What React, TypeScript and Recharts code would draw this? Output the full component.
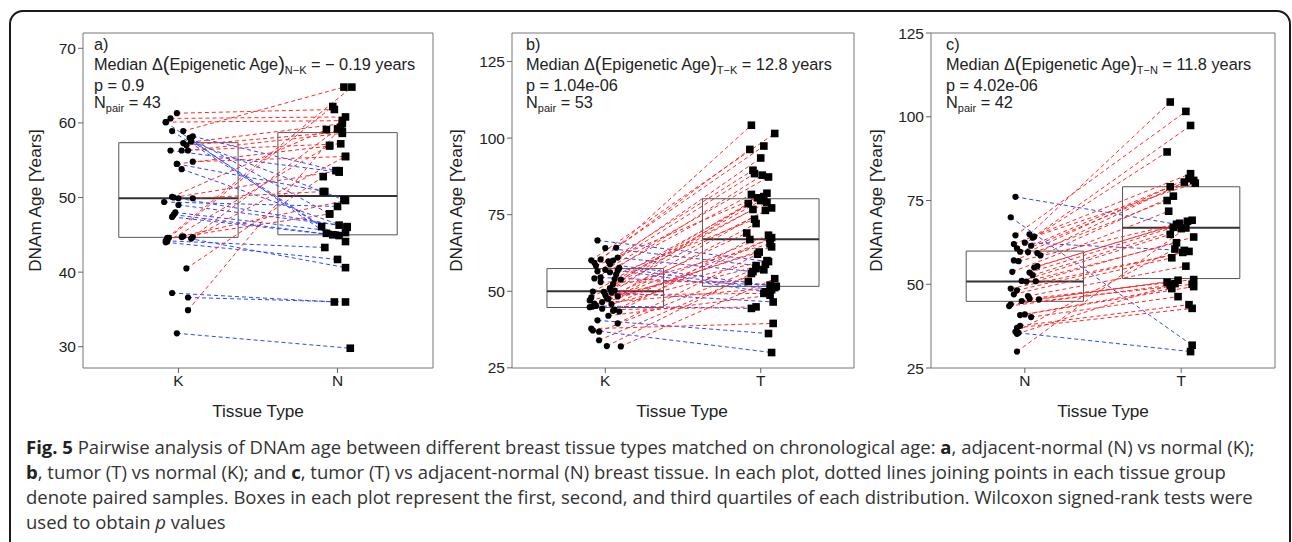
import React from 'react';
import { ComposedChart, XAxis, YAxis, Scatter, ReferenceArea, ReferenceLine } from 'recharts';

// ---------- Panel a: normal (K) vs adjacent-normal (N) ----------
const aCategories = ['K', 'N'];
const aLeft = [61.3, 60.6, 60.1, 58.9, 58.9, 58.2, 57.5, 57.3, 56.3, 56.3, 56.3, 54.5, 54.8, 53.8, 50.1, 49.4, 49.0, 49.9, 48.0, 47.4, 44.6, 44.2, 44.0, 44.7, 44.7, 40.5, 37.2, 36.6, 34.9, 31.8, 44.6, 58.0, 57.6, 44.4, 49.9, 44.1, 60.1, 57.0, 50.0, 47.7, 44.8, 54.5, 44.5];
const aRight = [61.8, 60.8, 45.2, 46.1, 64.8, 53.6, 49.7, 59.9, 53.4, 57.2, 58.6, 56.9, 55.5, 46.0, 59.1, 48.8, 46.3, 50.8, 45.3, 44.9, 62.2, 43.3, 41.7, 40.6, 59.2, 52.8, 36.0, 36.0, 59.4, 29.8, 64.8, 47.8, 44.1, 49.6, 46.1, 57.0, 60.3, 58.8, 53.6, 45.0, 47.8, 50.8, 55.5];
const aLeftJitter = [-0.01, -0.05, -0.08, -0.04, 0.03, 0.09, 0.08, 0.03, -0.05, 0.02, 0.06, -0.01, 0.09, 0.02, -0.04, -0.09, 0.0, 0.09, -0.02, -0.04, -0.06, -0.08, -0.08, 0.02, 0.09, 0.05, -0.04, 0.06, 0.06, -0.01, -0.07, 0.07, 0.08, -0.07, 0.0, -0.07, -0.08, 0.05, -0.03, -0.03, 0.03, -0.01, 0.08];
const aRightJitter = [-0.02, 0.05, -0.07, -0.1, 0.04, -0.01, 0.04, 0.03, 0.01, 0.02, 0.03, -0.05, 0.05, 0.06, -0.07, 0.0, 0.01, -0.09, 0.05, 0.01, -0.03, -0.08, 0.0, 0.05, 0.0, -0.09, -0.02, 0.05, 0.02, 0.08, 0.09, -0.05, 0.05, 0.05, 0.06, -0.05, 0.03, 0.03, 0.01, -0.03, -0.05, -0.08, 0.05];
const aBoxes = [
  { pos: 1, q1: 44.66, med: 49.9, q3: 57.35 },
  { pos: 2, q1: 45.0, med: 50.2, q3: 58.7 },
];
const aYDomain: [number, number] = [27.15, 72.05];
const aYTicks = [30, 40, 50, 60, 70];

// ---------- Panel b: normal (K) vs tumor (T) ----------
const bCategories = ['K', 'T'];
const bLeft = [66.6, 64.1, 64.2, 60.1, 59.3, 60.4, 60.0, 59.8, 57.6, 56.5, 56.8, 56.2, 57.0, 54.2, 54.0, 54.5, 53.8, 52.3, 49.9, 49.6, 50.2, 49.8, 48.0, 47.5, 48.3, 47.8, 45.2, 44.8, 44.3, 43.6, 43.4, 45.0, 40.5, 39.5, 37.8, 36.8, 37.2, 34.0, 32.1, 32.0, 58.3, 55.5, 51.0, 46.5, 45.8, 58.8, 61.0, 53.0, 48.8, 44.0, 46.0, 42.0, 47.0];
const bRight = [59.7, 58.4, 104.2, 101.5, 97.4, 96.3, 93.5, 89.5, 50.5, 88.4, 49.8, 87.9, 87.3, 81.6, 80.9, 52.0, 80.5, 79.6, 79.0, 46.5, 78.6, 77.2, 76.7, 76.4, 72.1, 69.0, 44.4, 68.3, 67.5, 67.2, 66.9, 64.5, 36.2, 62.1, 39.5, 57.4, 30.0, 57.0, 55.8, 54.1, 82.0, 73.5, 65.5, 62.8, 58.8, 51.6, 56.4, 53.2, 49.3, 44.9, 51.2, 48.7, 60.0];
const bLeftJitter = [-0.05, 0.0, 0.07, -0.09, -0.07, -0.03, 0.05, 0.02, 0.09, -0.05, 0.08, 0.03, 0.0, -0.07, 0.06, -0.03, 0.1, 0.05, -0.08, 0.04, 0.06, -0.01, -0.09, 0.02, 0.08, 0.01, -0.06, -0.1, -0.02, 0.05, 0.09, -0.08, -0.05, 0.08, -0.09, -0.04, -0.08, -0.04, 0.01, 0.1, -0.06, 0.07, 0.03, -0.02, 0.04, 0.03, 0.08, -0.03, 0.0, 0.06, -0.07, 0.02, -0.1];
const bRightJitter = [0.05, -0.03, -0.06, 0.09, 0.02, -0.07, 0.0, -0.05, 0.07, -0.04, 0.03, 0.01, 0.05, -0.06, 0.02, 0.06, -0.02, 0.0, 0.04, 0.08, -0.08, 0.07, -0.05, 0.03, -0.03, -0.09, -0.06, 0.05, 0.07, 0.06, -0.07, 0.07, 0.05, -0.02, 0.08, -0.03, 0.07, 0.02, -0.06, 0.09, 0.04, -0.04, 0.06, -0.01, 0.03, 0.1, -0.05, -0.08, 0.02, -0.03, 0.09, 0.06, 0.04];
const bBoxes = [
  { pos: 1, q1: 44.7, med: 50.0, q3: 57.4 },
  { pos: 2, q1: 51.6, med: 67.0, q3: 80.2 },
];
const bYDomain: [number, number] = [24.95, 134.3];
const bYTicks = [25, 50, 75, 100, 125];

// ---------- Panel c: adjacent-normal (N) vs tumor (T) ----------
const cCategories = ['N', 'T'];
const cLeft = [76.1, 70.0, 64.9, 64.6, 63.9, 62.4, 62.0, 61.5, 60.7, 59.7, 59.3, 59.6, 58.6, 57.1, 56.9, 55.4, 55.0, 53.7, 53.5, 52.7, 51.0, 50.9, 50.8, 48.7, 48.2, 47.0, 46.5, 45.7, 45.5, 45.0, 44.0, 43.5, 41.0, 40.8, 40.2, 37.6, 37.0, 35.8, 35.5, 35.2, 29.9, 64.2];
const cRight = [67.9, 31.8, 104.4, 101.6, 97.4, 60.1, 83.0, 81.6, 89.5, 81.0, 80.5, 79.1, 76.3, 75.0, 68.8, 69.1, 68.2, 71.8, 67.0, 66.6, 64.9, 64.1, 62.4, 59.8, 59.5, 57.9, 55.4, 51.4, 51.2, 50.6, 50.0, 49.7, 49.3, 48.7, 46.3, 43.9, 42.8, 60.5, 29.9, 50.2, 66.8, 80.2];
const cLeftJitter = [-0.06, -0.09, 0.03, -0.06, 0.05, 0.0, -0.07, 0.04, -0.05, -0.03, 0.08, 0.02, 0.1, -0.07, -0.04, 0.08, 0.06, -0.08, 0.03, 0.05, -0.02, 0.07, 0.01, -0.09, -0.05, -0.07, 0.02, 0.03, 0.09, -0.02, -0.09, -0.1, 0.0, -0.03, 0.04, -0.03, -0.05, -0.06, -0.04, -0.05, -0.05, 0.06];
const cRightJitter = [-0.03, 0.07, -0.07, 0.03, 0.06, 0.02, 0.06, 0.05, -0.09, 0.08, 0.02, -0.07, -0.05, -0.09, 0.04, 0.07, -0.01, -0.08, -0.05, 0.0, -0.07, 0.08, -0.03, 0.05, 0.01, -0.06, 0.03, 0.08, -0.02, -0.09, 0.07, -0.07, 0.08, -0.06, -0.02, 0.05, 0.07, -0.04, 0.06, -0.04, 0.03, 0.09];
const cBoxes = [
  { pos: 1, q1: 44.9, med: 50.8, q3: 59.9 },
  { pos: 2, q1: 51.7, med: 66.9, q3: 79.1 },
];
const cYDomain: [number, number] = [25, 125];
const cYTicks = [25, 50, 75, 100, 125];

const X_DOMAIN: [number, number] = [0.4, 2.6];
const BOX_HALF = 0.375;
const RED = '#ff2a2a';
const BLUE = '#2a48ff';
const FONT = '"Liberation Sans", Arimo, Arial, sans-serif';

const Dot = (props: any) => <circle cx={props.cx} cy={props.cy} r={3.1} fill="#000" />;
const Sq = (props: any) => <rect x={props.cx - 3.8} y={props.cy - 3.8} width={7.6} height={7.6} fill="#000" />;
const Empty = () => <g />;

type PanelProps = {
  left: number[]; right: number[]; leftJit: number[]; rightJit: number[];
  boxes: { pos: number; q1: number; med: number; q3: number }[];
  yDomain: [number, number]; yTicks: number[]; cats: string[];
  width: number; marginLeft: number; marginRight: number;
};

function Panel(p: PanelProps) {
  const leftPts = p.left.map((v, i) => ({ x: 1 + p.leftJit[i], y: v }));
  const rightPts = p.right.map((v, i) => ({ x: 2 + p.rightJit[i], y: v }));
  return (
    <ComposedChart width={p.width} height={400} margin={{ top: 33, right: p.marginRight, bottom: 2, left: p.marginLeft }}>
      <XAxis type="number" dataKey="x" domain={X_DOMAIN} ticks={[1, 2]} allowDataOverflow interval={0}
        tickFormatter={(v: number) => p.cats[Math.round(v) - 1]} axisLine={false}
        tickLine={{ stroke: '#666' }} tickSize={5} height={30}
        tick={{ fontSize: 15.5, fill: '#222', fontFamily: FONT }} />
      <YAxis type="number" dataKey="y" domain={p.yDomain} ticks={p.yTicks} allowDataOverflow interval={0}
        axisLine={false} tickLine={{ stroke: '#666' }} tickSize={5} width={45}
        tick={{ fontSize: 15.5, fill: '#222', fontFamily: FONT }} />
      <ReferenceArea x1={X_DOMAIN[0]} x2={X_DOMAIN[1]} y1={p.yDomain[0]} y2={p.yDomain[1]}
        fill="none" fillOpacity={0} stroke="#777" strokeWidth={1} ifOverflow="visible" />
      {p.boxes.map((b) => (
        <ReferenceArea key={'box' + b.pos} x1={b.pos - BOX_HALF} x2={b.pos + BOX_HALF} y1={b.q1} y2={b.q3}
          fill="none" fillOpacity={0} stroke="#555" strokeWidth={1} ifOverflow="visible" />
      ))}
      {p.boxes.map((b) => (
        <ReferenceLine key={'med' + b.pos} segment={[{ x: b.pos - BOX_HALF, y: b.med }, { x: b.pos + BOX_HALF, y: b.med }]}
          stroke="#333" strokeWidth={2} ifOverflow="visible" />
      ))}
      {p.left.map((v, i) => (
        <Scatter key={'pair' + i} data={[leftPts[i], rightPts[i]]} shape={Empty} legendType="none"
          line={{ stroke: p.right[i] >= v ? RED : BLUE, strokeWidth: 1, strokeDasharray: '4 3' }}
          isAnimationActive={false} />
      ))}
      <Scatter data={leftPts} shape={Dot} isAnimationActive={false} legendType="none" />
      <Scatter data={rightPts} shape={Sq} isAnimationActive={false} legendType="none" />
    </ComposedChart>
  );
}

function Annot({ x, letter, sub, value, pval, n }: { x: number; letter: string; sub: string; value: string; pval: string; n: string }) {
  return (
    <text fontFamily={FONT} fontSize={16.3} fill="#222">
      <tspan x={x} y={50}>{letter}</tspan>
      <tspan x={x} y={70}>Median Δ</tspan>
      <tspan fontSize={20} dy={1}>(</tspan>
      <tspan dy={-1}>Epigenetic Age</tspan>
      <tspan fontSize={20} dy={1}>)</tspan>
      <tspan fontSize={11} dy={3}>{sub}</tspan>
      <tspan dy={-4}>{' = ' + value}</tspan>
      <tspan x={x} y={91}>{'p = ' + pval}</tspan>
      <tspan x={x} y={108}>N</tspan>
      <tspan fontSize={11} dy={4}>pair</tspan>
      <tspan dy={-4}>{' = ' + n}</tspan>
    </text>
  );
}

function YTitle({ x }: { x: number }) {
  return (
    <text x={x} y={200.5} transform={`rotate(-90 ${x} 200.5)`} textAnchor="middle" dominantBaseline="central"
      fontFamily={FONT} fontSize={17.2} fill="#222">DNAm Age [Years]</text>
  );
}

function XTitle({ x }: { x: number }) {
  return (
    <text x={x} y={416.5} textAnchor="middle" fontFamily={FONT} fontSize={17.2} fill="#222">Tissue Type</text>
  );
}

const CAP_FONT = '"Open Sans", "Noto Sans", sans-serif';

export default function App() {
  return (
    <div style={{ position: 'absolute', left: 0, top: 0, width: 1292, height: 542, background: '#fff', overflow: 'hidden' }}>
      <div style={{ position: 'absolute', left: 0, top: 0 }}>
        <Panel left={aLeft} right={aRight} leftJit={aLeftJitter} rightJit={aRightJitter} boxes={aBoxes}
          yDomain={aYDomain} yTicks={aYTicks} cats={aCategories} width={440} marginLeft={38} marginRight={7} />
      </div>
      <div style={{ position: 'absolute', left: 440, top: 0 }}>
        <Panel left={bLeft} right={bRight} leftJit={bLeftJitter} rightJit={bRightJitter} boxes={bBoxes}
          yDomain={bYDomain} yTicks={bYTicks} cats={bCategories} width={420} marginLeft={27} marginRight={6} />
      </div>
      <div style={{ position: 'absolute', left: 860, top: 0 }}>
        <Panel left={cLeft} right={cRight} leftJit={cLeftJitter} rightJit={cRightJitter} boxes={cBoxes}
          yDomain={cYDomain} yTicks={cYTicks} cats={cCategories} width={432} marginLeft={26} marginRight={17} />
      </div>
      <svg width={1292} height={542} style={{ position: 'absolute', left: 0, top: 0, pointerEvents: 'none' }}>
        <rect x={10} y={11} width={1280} height={600} rx={13} ry={13} fill="none" stroke="#1a1a1a" strokeWidth={2} />
        <Annot x={94} letter="a)" sub="N−K" value="− 0.19 years" pval="0.9" n="43" />
        <Annot x={526} letter="b)" sub="T−K" value="12.8 years" pval="1.04e-06" n="53" />
        <Annot x={946} letter="c)" sub="T−N" value="11.8 years" pval="4.02e-06" n="42" />
        <YTitle x={35} />
        <YTitle x={456} />
        <YTitle x={876} />
        <XTitle x={258} />
        <XTitle x={682} />
        <XTitle x={1103} />
        <g fontFamily={CAP_FONT} fontSize={18.5} fill="#333">
          <text x={26} y={454}>
            <tspan fontWeight="bold" fill="#222">Fig. 5</tspan>
            <tspan> Pairwise analysis of DNAm age between different breast tissue types matched on chronological age: </tspan>
            <tspan fontWeight="bold" fill="#222">a</tspan>
            <tspan>, adjacent-normal (N) vs normal (K);</tspan>
          </text>
          <text x={26} y={479}>
            <tspan fontWeight="bold" fill="#222">b</tspan>
            <tspan>, tumor (T) vs normal (K); and </tspan>
            <tspan fontWeight="bold" fill="#222">c</tspan>
            <tspan>, tumor (T) vs adjacent-normal (N) breast tissue. In each plot, dotted lines joining points in each tissue group</tspan>
          </text>
          <text x={26} y={504}>
            denote paired samples. Boxes in each plot represent the first, second, and third quartiles of each distribution. Wilcoxon signed-rank tests were
          </text>
          <text x={26} y={529}>
            <tspan>used to obtain </tspan>
            <tspan fontStyle="italic">p</tspan>
            <tspan> values</tspan>
          </text>
        </g>
      </svg>
    </div>
  );
}
